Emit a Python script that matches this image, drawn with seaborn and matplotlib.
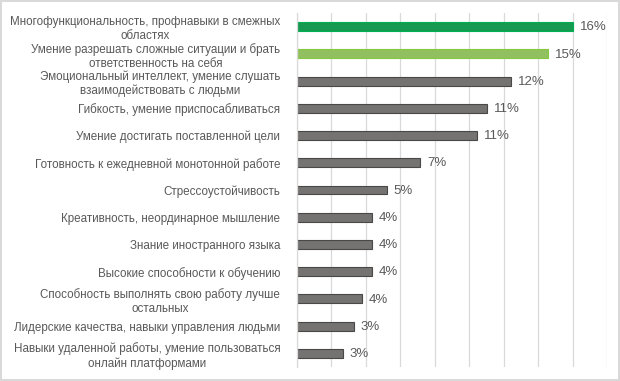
import matplotlib
matplotlib.use("Agg")
import matplotlib.pyplot as plt
import seaborn as sns
import pandas as pd

categories = [
    "Многофункциональность, профнавыки в смежных\nобластях",
    "Умение разрешать сложные ситуации и брать\nответственность на себя",
    "Эмоциональный интеллект, умение слушать\nвзаимодействовать с людьми",
    "Гибкость, умение приспосабливаться",
    "Умение достигать поставленной цели",
    "Готовность к ежедневной монотонной работе",
    "Стрессоустойчивость",
    "Креативность, неординарное мышление",
    "Знание иностранного языка",
    "Высокие способности к обучению",
    "Способность выполнять свою работу лучше\nостальных",
    "Лидерские качества, навыки управления людьми",
    "Навыки удаленной работы, умение пользоваться\nонлайн платформами",
]
values = [16.0, 14.6, 12.4, 11.05, 10.45, 7.15, 5.2, 4.36, 4.36, 4.36, 3.76, 3.3, 2.67]
value_labels = ["16%", "15%", "12%", "11%", "11%", "7%", "5%", "4%", "4%", "4%", "4%", "3%", "3%"]
bar_colors = ["#00B050", "#92D050"] + ["#767171"] * 11
edge_colors = ["#00B050", "#84C83F"] + ["#4A4747"] * 11

df = pd.DataFrame({"category": categories, "value": values})

sns.set_style("white")
plt.rcParams["font.family"] = ["Liberation Sans", "DejaVu Sans"]

fig = plt.figure(figsize=(6.2, 3.81), dpi=100, facecolor="white",
                 edgecolor="#D9D9D9", linewidth=1.5)
ax = fig.add_axes([297 / 620, 1 - 367 / 381, 310 / 620, 354 / 381])

sns.barplot(data=df, y="category", x="value", hue="category", palette=bar_colors,
            legend=False, width=0.33, ax=ax, orient="h")
for patch, ec in zip(ax.patches, edge_colors):
    patch.set_edgecolor(ec)
    patch.set_linewidth(0.8)

ax.set_xlim(0, 18)
ax.set_xticks(range(0, 19, 2))
ax.xaxis.grid(True, color="#D9D9D9", linewidth=0.9)
ax.set_axisbelow(True)
ax.tick_params(axis="x", length=0, labelbottom=False)
ax.tick_params(axis="y", length=0, pad=12, labelsize=8.4, labelcolor="#595959")
for lbl in ax.get_yticklabels():
    lbl.set_multialignment("center")
    lbl.set_linespacing(1.25)
ax.set_xlabel("")
ax.set_ylabel("")
for side in ["top", "right", "bottom"]:
    ax.spines[side].set_visible(False)
ax.spines["left"].set_color("#D9D9D9")
ax.spines["left"].set_linewidth(0.9)

for i, (v, t) in enumerate(zip(values, value_labels)):
    ax.annotate(t, xy=(v, i), xytext=(5, -0.5), textcoords="offset points",
                va="center", ha="left", fontsize=9.5, color="#595959")

fig.savefig("out.png", dpi=100, facecolor="white", edgecolor=fig.get_edgecolor())
